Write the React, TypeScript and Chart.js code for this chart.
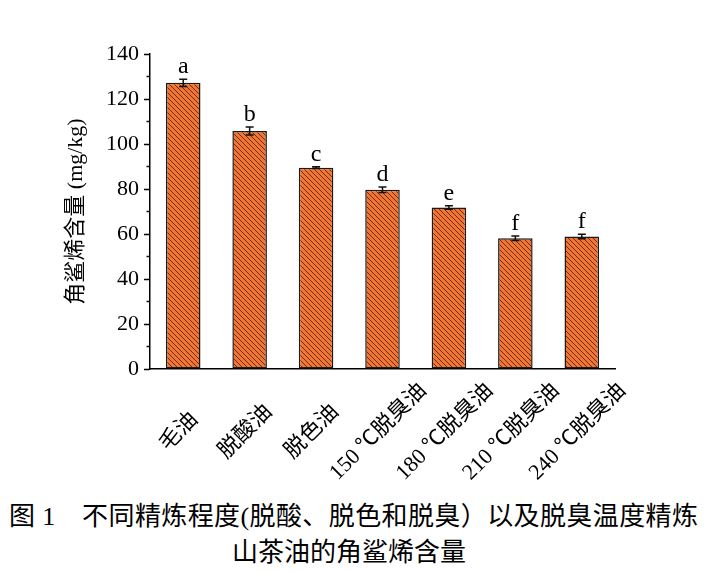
import { useEffect, useRef } from "react";
import { Chart, registerables } from "chart.js";

Chart.register(...registerables);

// 角鲨烯含量 (mg/kg)
const CATEGORIES = [
  "毛油",
  "脱酸油",
  "脱色油",
  "150 ℃脱臭油",
  "180 ℃脱臭油",
  "210 ℃脱臭油",
  "240 ℃脱臭油",
];
const MEANS = [127.2, 105.8, 89.5, 79.7, 71.8, 58.1, 58.9];
const ERRORS = [1.6, 1.8, 0.4, 1.2, 0.8, 1.0, 1.0];
const LETTERS = ["a", "b", "c", "d", "e", "f", "f"];
const Y_MAX = 140;
const Y_STEP = 20;
const Y_MINOR = [10, 30, 50, 70, 90, 110, 130];

const SERIF = "'Liberation Serif', 'Noto Sans CJK SC', serif";

function makeHatch(): CanvasPattern | string {
  const s = 5;
  const tile = document.createElement("canvas");
  tile.width = s;
  tile.height = s;
  const c = tile.getContext("2d");
  if (!c) return "#E8692B";
  c.fillStyle = "#F27531";
  c.fillRect(0, 0, s, s);
  c.strokeStyle = "#6A2C10";
  c.lineWidth = 1;
  c.beginPath();
  for (const o of [-s, 0, s]) {
    c.moveTo(o - 1, -1);
    c.lineTo(o + s + 1, s + 1);
  }
  c.stroke();
  return c.createPattern(tile, "repeat") ?? "#E8692B";
}

// error bars, significance letters, minor ticks and centred rotated x labels
const extras = {
  id: "extras",
  afterDatasetsDraw(chart: Chart) {
    const { ctx } = chart;
    const x = chart.scales.x;
    const y = chart.scales.y;
    const meta = chart.getDatasetMeta(0);
    ctx.save();
    ctx.strokeStyle = "#111";
    ctx.fillStyle = "#000";
    ctx.lineWidth = 1.5;

    meta.data.forEach((el: any, i: number) => {
      const cx = el.x;
      const top = y.getPixelForValue(MEANS[i] + ERRORS[i]);
      const bot = y.getPixelForValue(MEANS[i] - ERRORS[i]);
      ctx.beginPath();
      ctx.moveTo(cx, top);
      ctx.lineTo(cx, bot);
      ctx.moveTo(cx - 4, top);
      ctx.lineTo(cx + 4, top);
      ctx.moveTo(cx - 4, bot);
      ctx.lineTo(cx + 4, bot);
      ctx.stroke();

      ctx.font = `24px ${SERIF}`;
      ctx.textAlign = "center";
      ctx.textBaseline = "alphabetic";
      ctx.fillText(LETTERS[i], cx, top - 6);
    });

    // minor ticks on the y axis
    const left = chart.chartArea.left;
    ctx.beginPath();
    Y_MINOR.forEach((v) => {
      const py = y.getPixelForValue(v);
      ctx.moveTo(left - 3.5, py);
      ctx.lineTo(left, py);
    });
    ctx.stroke();

    // x labels, rotated 45° and centred under each bar
    ctx.font = `22px ${SERIF}`;
    ctx.textAlign = "center";
    ctx.textBaseline = "middle";
    CATEGORIES.forEach((label, i) => {
      const px = x.getPixelForValue(i);
      ctx.save();
      ctx.translate(px - 4, 432);
      ctx.rotate(-Math.PI / 4);
      ctx.fillText(label, 0, 0);
      ctx.restore();
    });
    ctx.restore();
  },
};

export default function App() {
  const canvasRef = useRef<HTMLCanvasElement>(null);
  const chartRef = useRef<Chart | null>(null);

  useEffect(() => {
    if (!canvasRef.current) return;

    chartRef.current = new Chart(canvasRef.current, {
      type: "bar",
      data: {
        labels: CATEGORIES,
        datasets: [
          {
            data: MEANS,
            backgroundColor: makeHatch() as any,
            borderColor: "#1a1a1a",
            borderWidth: 1.5,
            borderSkipped: false,
            barPercentage: 0.52,
            categoryPercentage: 1,
          },
        ],
      },
      options: {
        responsive: false,
        animation: false,
        layout: { padding: { top: 54, right: 99, bottom: 0, left: 0 } },
        plugins: {
          legend: { display: false },
          tooltip: { enabled: false },
        },
        scales: {
          x: {
            grid: { display: false },
            border: { display: true, color: "#000", width: 1.5 },
            ticks: { display: false },
            afterFit: (scale: any) => {
              scale.height = 126;
            },
          },
          y: {
            min: 0,
            max: Y_MAX,
            grid: {
              display: true,
              drawOnChartArea: false,
              drawTicks: true,
              tickLength: 6,
              tickColor: "#000",
              tickWidth: 1.5,
            },
            border: { display: true, color: "#000", width: 1.5 },
            ticks: {
              stepSize: Y_STEP,
              color: "#000",
              padding: 5,
              font: { family: SERIF, size: 22 },
            },
            title: {
              display: true,
              text: "角鲨烯含量 (mg/kg)",
              color: "#000",
              font: { family: SERIF, size: 22 },
              padding: { top: 63, bottom: 0 },
            },
            afterFit: (scale: any) => {
              scale.width = 150;
            },
          },
        },
      },
      plugins: [extras],
    });

    return () => {
      chartRef.current?.destroy();
      chartRef.current = null;
    };
  }, []);

  return (
    <div
      style={{
        position: "absolute",
        left: 0,
        top: 0,
        width: "714px",
        height: "572px",
        background: "#ffffff",
        fontFamily: SERIF,
        color: "#000",
      }}
    >
      <canvas ref={canvasRef} width={714} height={495} />

      {/* Caption */}
      <div
        style={{
          position: "absolute",
          left: "9px",
          top: "503px",
          fontSize: "26px",
          lineHeight: "28px",
          letterSpacing: "0.4px",
          whiteSpace: "nowrap",
        }}
      >
        图 1{"\u3000"}不同精炼程度(脱酸、脱色和脱臭）以及脱臭温度精炼
      </div>
      <div
        style={{
          position: "absolute",
          left: "232px",
          top: "539px",
          fontSize: "26px",
          lineHeight: "28px",
          whiteSpace: "nowrap",
        }}
      >
        山茶油的角鲨烯含量
      </div>
    </div>
  );
}
